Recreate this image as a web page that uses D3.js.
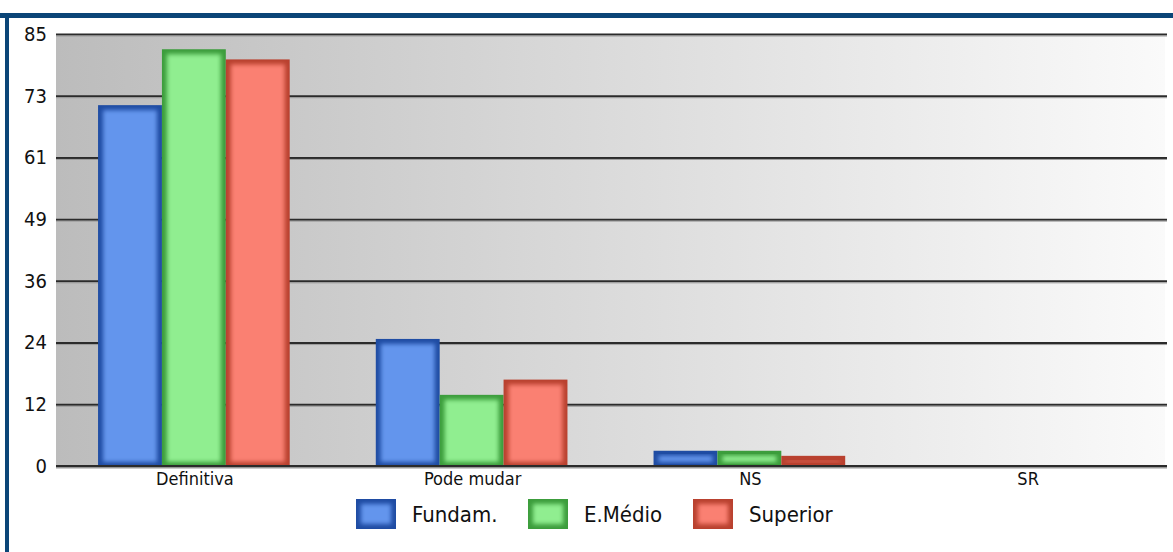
<!DOCTYPE html>
<html>
<head>
<meta charset="utf-8">
<script src="https://cdn.jsdelivr.net/npm/d3@7"></script>
<style>
  body { margin: 0; background: #fff; }
  svg text { font-family: "DejaVu Sans Condensed", "DejaVu Sans", sans-serif; font-stretch: condensed; fill: #111; }
</style>
</head>
<body>
<div class="chart"></div>
<script>
// chart data
var categories = ["Definitiva", "Pode mudar", "NS", "SR"];
var seriesNames = ["Fundam.", "E.Médio", "Superior"];
var fundam = [71, 25, 3, 0];
var eMedio = [82, 14, 3, 0];
var superior = [80, 17, 2, 0];
var yMax = 85;
var tickLabels = [0, 12, 24, 36, 49, 61, 73, 85];

var seriesColors = ["#6495ed", "#90ee90", "#fa8072"];
var edgeColors = ["#1f4ca3", "#3c9d3c", "#b9412f"];

var svgWidth = 1173;
var svgHeight = 552;

var margin = {
  top: 34,
  right: 6,
  bottom: 86,
  left: 56
};

var width = svgWidth - margin.left - margin.right;
var height = svgHeight - margin.top - margin.bottom;

var svg = d3
  .select(".chart")
  .append("svg")
  .attr("width", svgWidth)
  .attr("height", svgHeight);

var defs = svg.append("defs");

// plot background, grey on the left fading to white
var bgGrad = defs.append("linearGradient")
  .attr("id", "bgGrad")
  .attr("x1", "0%").attr("x2", "100%")
  .attr("y1", "0%").attr("y2", "0%");
bgGrad.append("stop").attr("offset", "0%").attr("stop-color", "#bcbcbc");
bgGrad.append("stop").attr("offset", "100%").attr("stop-color", "#fafafa");

// soft bevel for the bars
defs.append("filter")
  .attr("id", "bevel")
  .attr("x", "-20%").attr("y", "-20%")
  .attr("width", "140%").attr("height", "140%")
  .append("feGaussianBlur")
  .attr("stdDeviation", 2.2);

// frame (dark blue top and left edges)
svg.append("rect")
  .attr("x", 0).attr("y", 13)
  .attr("width", svgWidth).attr("height", 5)
  .attr("fill", "#0b4577");
svg.append("rect")
  .attr("x", 5).attr("y", 13)
  .attr("width", 4).attr("height", svgHeight - 13)
  .attr("fill", "#0b4577");

var chartGroup = svg.append("g")
  .attr("transform", `translate(${margin.left}, ${margin.top})`);

chartGroup.append("rect")
  .attr("x", 0).attr("y", 0)
  .attr("width", width - 2).attr("height", height)
  .attr("fill", "url(#bgGrad)");

// scales
var xBand = d3.scaleBand()
  .domain(categories)
  .range([0, width]);

var xInner = d3.scaleBand()
  .domain(seriesNames)
  .range([0, xBand.bandwidth() * 0.69]);

var yLinearScale = d3.scaleLinear()
  .domain([0, yMax])
  .range([height, 0]);

var tickValues = d3.range(0, 8).map(i => yMax * i / 7);

// gridlines + y labels
var leftAxis = d3.axisLeft(yLinearScale)
  .tickValues(tickValues)
  .tickSize(-width)
  .tickPadding(9)
  .tickFormat((d, i) => tickLabels[i]);

var yAxis = chartGroup.append("g")
  .classed("y-axis", true)
  .call(leftAxis);

yAxis.select(".domain").remove();
yAxis.selectAll(".tick line")
  .attr("stroke", "#2b2b2b")
  .attr("stroke-width", 2);
yAxis.selectAll(".tick")
  .append("line")
  .attr("x2", width)
  .attr("y1", 1.5).attr("y2", 1.5)
  .attr("stroke", "#9a9a9a")
  .attr("stroke-width", 1);
yAxis.selectAll(".tick text")
  .attr("font-size", "20px")
  .attr("fill", "#111");

// bars
var rows = categories.map((c, i) => ({
  category: c,
  values: [fundam[i], eMedio[i], superior[i]]
}));

var groups = chartGroup.selectAll(".cat")
  .data(rows)
  .enter()
  .append("g")
  .attr("class", "cat")
  .attr("transform", d => `translate(${xBand(d.category) + (xBand.bandwidth() - xInner.range()[1]) / 2 - 1}, 0)`);

var bars = groups.selectAll(".bar")
  .data(d => d.values.map((v, j) => ({ name: seriesNames[j], value: v, j: j })).filter(b => b.value > 0))
  .enter()
  .append("g")
  .attr("class", "bar");

bars.append("rect")
  .attr("x", d => xInner(d.name))
  .attr("y", d => yLinearScale(d.value))
  .attr("width", xInner.bandwidth())
  .attr("height", d => height - yLinearScale(d.value))
  .attr("fill", d => edgeColors[d.j]);

bars.append("rect")
  .attr("x", d => xInner(d.name) + 5)
  .attr("y", d => yLinearScale(d.value) + 5)
  .attr("width", xInner.bandwidth() - 10)
  .attr("height", d => Math.max(1, height - yLinearScale(d.value) - 9))
  .attr("fill", d => seriesColors[d.j])
  .attr("filter", "url(#bevel)");

// baseline on top of bars
chartGroup.append("line")
  .attr("x1", 0).attr("x2", width)
  .attr("y1", height).attr("y2", height)
  .attr("stroke", "#2b2b2b")
  .attr("stroke-width", 2);

// x labels
var bottomAxis = d3.axisBottom(xBand).tickSize(0).tickPadding(6);
var xAxis = chartGroup.append("g")
  .classed("x-axis", true)
  .attr("transform", `translate(0, ${height})`)
  .call(bottomAxis);
xAxis.select(".domain").remove();
xAxis.selectAll("text")
  .attr("font-size", "18px")
  .attr("fill", "#111");

// legend
var legendX = [356, 528, 693];
var legend = svg.append("g")
  .selectAll("g")
  .data(seriesNames)
  .enter()
  .append("g")
  .attr("transform", (d, i) => `translate(${legendX[i]}, 499)`);

legend.append("rect")
  .attr("width", 40).attr("height", 30)
  .attr("fill", (d, i) => edgeColors[i]);
legend.append("rect")
  .attr("x", 5).attr("y", 5)
  .attr("width", 30).attr("height", 20)
  .attr("fill", (d, i) => seriesColors[i])
  .attr("filter", "url(#bevel)");
legend.append("text")
  .attr("x", 56)
  .attr("y", 23)
  .attr("font-size", "22px")
  .attr("fill", "#111")
  .text(d => d);
</script>
</body>
</html>
